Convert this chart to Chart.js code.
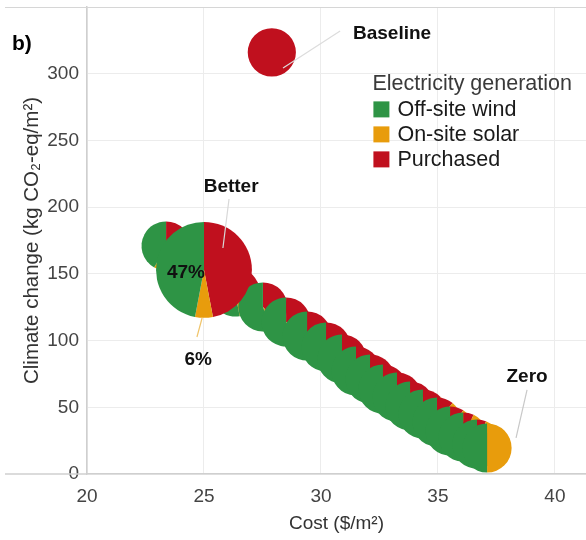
<!DOCTYPE html>
<html>
<head>
<meta charset="utf-8">
<script src="https://cdn.jsdelivr.net/npm/chart.js@4"></script>
<style>
html,body{margin:0;padding:0;background:#fff;}
#wrap{width:586px;height:540px;position:relative;}
</style>
</head>
<body>
<div id="wrap"><canvas id="c"></canvas></div>
<script>
// ---- data ----
const categories = ['Off-site wind', 'On-site solar', 'Purchased'];
const xTicks = [20, 25, 30, 35, 40];
const yTicks = [0, 50, 100, 150, 200, 250, 300];

// Pareto options (cost $/m2, climate change kg CO2-eq/m2, electricity shares)
const optionCost    = [23.38, 26.33, 27.52, 28.51, 29.41, 30.22, 30.90, 31.50, 32.10, 32.65, 33.25, 33.81, 34.36, 34.96, 35.52, 36.08, 36.67, 37.10];
const optionClimate = [170.9, 136.4, 125.2, 113.9, 103.4, 95.2, 86.2, 77.2, 71.2, 63.7, 57.7, 51.0, 45.0, 39.0, 32.2, 27.7, 22.5, 19.5];
const optionWind      = [0.42, 0.53, 0.56, 0.59, 0.63, 0.65, 0.68, 0.71, 0.73, 0.75, 0.77, 0.79, 0.81, 0.83, 0.85, 0.87, 0.88, 0.50];
const optionSolar     = [0.05, 0.06, 0.06, 0.06, 0.06, 0.06, 0.06, 0.06, 0.06, 0.06, 0.06, 0.06, 0.06, 0.06, 0.06, 0.06, 0.06, 0.50];
const optionPurchased = [0.53, 0.41, 0.38, 0.35, 0.31, 0.29, 0.26, 0.23, 0.21, 0.19, 0.17, 0.15, 0.13, 0.11, 0.09, 0.07, 0.06, 0.00];

// Highlighted "Better" option
const betterCost = [25.0];
const betterClimate = [153.0];
const betterWind = [0.47];
const betterSolar = [0.06];
const betterPurchased = [0.47];

// Baseline
const baselineCost = [27.9];
const baselineClimate = [316.0];
const baselineWind = [0.0];
const baselineSolar = [0.0];
const baselinePurchased = [1.0];

// ---- styles ----
const COLORS = { wind: '#2e9445', solar: '#e89c0c', purchased: '#c0101e' };
const FONT = '"Liberation Sans", Arial, Helvetica, sans-serif';

// text annotations (data coordinates)
const annotations = [
  { text: 'Baseline', x: 33.04, y: 329.8, line: [[28.38, 304.3], [30.82, 332.1]], lineColor: '#dcdcdc' },
  { text: 'Better',   x: 26.16, y: 215.1, line: [[25.81, 169.4], [26.07, 206.1]], lineColor: '#d8d8d8' },
  { text: '47%',      x: 24.23, y: 150.7, line: null },
  { text: '6%',       x: 24.75, y: 85.5,  line: [[24.92, 116.9], [24.70, 102.7]], lineColor: '#f0c46a' },
  { text: 'Zero',     x: 38.81, y: 72.7,  line: [[38.81, 63.0], [38.34, 27.0]], lineColor: '#c8c8c8' }
];

function pts(xs, ys) { return xs.map((v, i) => ({ x: v, y: ys[i] })); }

const datasets = [
  { label: 'Options', data: pts(optionCost, optionClimate), wind: optionWind, solar: optionSolar, purchased: optionPurchased, pieRadius: 1.05 },
  { label: 'Better', data: pts(betterCost, betterClimate), wind: betterWind, solar: betterSolar, purchased: betterPurchased, pieRadius: 2.05 },
  { label: 'Baseline', data: pts(baselineCost, baselineClimate), wind: baselineWind, solar: baselineSolar, purchased: baselinePurchased, pieRadius: 1.03 }
].map(d => Object.assign(d, { pointRadius: 0, pointHoverRadius: 0, showLine: false }));

const piePlugin = {
  id: 'pies',
  beforeDatasetsDraw(chart) {
    const { ctx, chartArea } = chart;
    ctx.save();
    ctx.strokeStyle = '#d6d6d6';
    ctx.lineWidth = 1.2;
    ctx.beginPath();
    ctx.moveTo(5, chartArea.top + 0.5);
    ctx.lineTo(chart.width, chartArea.top + 0.5);
    ctx.stroke();
    ctx.strokeStyle = '#cfcfcf';
    ctx.lineWidth = 1.5;
    ctx.beginPath();
    ctx.moveTo(5, chartArea.bottom);
    ctx.lineTo(chartArea.left, chartArea.bottom);
    ctx.stroke();
    ctx.restore();
  },
  afterDatasetsDraw(chart) {
    const { ctx, scales } = chart;
    const xs = scales.x, ys = scales.y;
    ctx.save();
    chart.data.datasets.forEach((ds, di) => {
      const meta = chart.getDatasetMeta(di);
      meta.data.forEach((pt, i) => {
        const cx = pt.x, cy = pt.y;
        const r = xs.getPixelForValue(ds.data[i].x + ds.pieRadius) - cx;
        const parts = [[ds.purchased[i], COLORS.purchased], [ds.solar[i], COLORS.solar], [ds.wind[i], COLORS.wind]];
        let a = -Math.PI / 2;
        parts.forEach(([s, col]) => {
          if (s <= 0) return;
          const b = a + s * 2 * Math.PI;
          ctx.beginPath();
          ctx.moveTo(cx, cy);
          ctx.arc(cx, cy, r, a, b);
          ctx.closePath();
          ctx.fillStyle = col;
          ctx.fill();
          a = b;
        });
      });
    });
    // leader lines
    annotations.forEach(an => {
      if (!an.line) return;
      ctx.beginPath();
      ctx.moveTo(xs.getPixelForValue(an.line[0][0]), ys.getPixelForValue(an.line[0][1]));
      ctx.lineTo(xs.getPixelForValue(an.line[1][0]), ys.getPixelForValue(an.line[1][1]));
      ctx.strokeStyle = an.lineColor;
      ctx.lineWidth = 1.2;
      ctx.stroke();
    });
    // labels
    ctx.fillStyle = '#111';
    ctx.font = 'bold 19px ' + FONT;
    ctx.textAlign = 'center';
    ctx.textBaseline = 'middle';
    annotations.forEach(an => {
      ctx.fillText(an.text, xs.getPixelForValue(an.x), ys.getPixelForValue(an.y));
    });
    // legend
    const lx = xs.getPixelForValue(32.2), ly = ys.getPixelForValue(292);
    ctx.textAlign = 'left';
    ctx.fillStyle = '#3a3a3a';
    ctx.font = '21.5px ' + FONT;
    ctx.fillText('Electricity generation', lx, ly);
    const legendColors = [COLORS.wind, COLORS.solar, COLORS.purchased];
    categories.forEach((c, k) => {
      const yy = ly + 25 * (k + 1);
      ctx.fillStyle = legendColors[k];
      ctx.fillRect(lx + 1, yy - 8, 16, 16);
      ctx.fillStyle = '#1a1a1a';
      ctx.fillText(c, lx + 25, yy + 1);
    });
    // panel label
    ctx.font = 'bold 21px ' + FONT;
    ctx.fillStyle = '#000';
    ctx.fillText('b)', 12, 44);
    ctx.restore();
  }
};

new Chart(document.getElementById('c'), {
  type: 'scatter',
  data: { datasets },
  options: {
    responsive: true,
    maintainAspectRatio: false,
    animation: false,
    layout: { padding: { top: 7, right: 0, bottom: 0, left: 0 } },
    plugins: { legend: { display: false }, tooltip: { enabled: false } },
    scales: {
      x: {
        type: 'linear', min: 20, max: 41.33,
        afterBuildTicks: s => { s.ticks = xTicks.map(v => ({ value: v })); },
        afterFit: s => { s.height = 66; s.paddingLeft = 0; s.paddingRight = 0; },
        grid: { color: '#ececec', drawTicks: false, lineWidth: 1 },
        border: { color: '#cfcfcf', width: 1.5 },
        ticks: { color: '#444', font: { size: 19, family: FONT }, padding: 11, maxRotation: 0 },
        title: { display: true, text: 'Cost ($/m²)', color: '#333', font: { size: 19, family: FONT }, padding: { top: 0, bottom: 5 } }
      },
      y: {
        type: 'linear', min: 0, max: 350,
        afterBuildTicks: s => { s.ticks = yTicks.map(v => ({ value: v })); },
        afterFit: s => { s.width = 87; s.paddingTop = 0; s.paddingBottom = 0; },
        grid: { color: '#ececec', drawTicks: false, lineWidth: 1 },
        border: { color: '#cfcfcf', width: 1.5 },
        ticks: { color: '#444', font: { size: 19, family: FONT }, padding: 8 },
        title: { display: true, text: 'Climate change (kg CO₂-eq/m²)', color: '#333', font: { size: 20.5, family: FONT }, padding: { top: 20, bottom: 0 } }
      }
    }
  },
  plugins: [piePlugin]
});
</script>
</body>
</html>
